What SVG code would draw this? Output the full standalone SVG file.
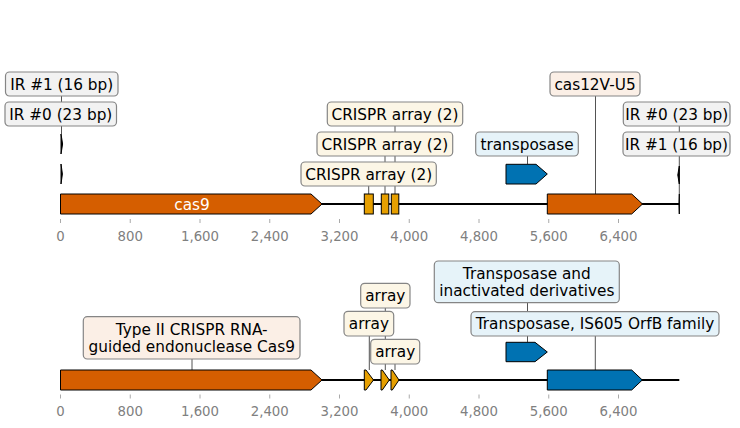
<svg xmlns="http://www.w3.org/2000/svg" width="740" height="428" viewBox="0 0 740 428">
<style>
text{font-family:"DejaVu Sans","Noto Sans",sans-serif;}
.lbl{font-size:15.3px;fill:#000;text-anchor:middle;}
.tick{font-size:13.3px;fill:#808080;text-anchor:middle;}
.box{stroke:#858585;stroke-width:1.2;}
.ir{fill:#f2f2f2;}
.cr{fill:#fcf6e6;}
.tp{fill:#e6f3f9;}
.cs{fill:#fbefe6;}
.feat{stroke:#000;stroke-width:1;}
.con{stroke:#404040;stroke-width:0.9;fill:none;}
.base{stroke:#000;stroke-width:2;fill:none;}
.tk{stroke:#aaaaaa;stroke-width:1;}
</style>
<rect width="740" height="428" fill="#fff"/>

<!-- axes -->
<g id="axis-top">
<line class="base" x1="60.5" y1="204" x2="679.3" y2="204"/>
<g class="tk">
<line x1="60.5" y1="219" x2="60.5" y2="223"/><line x1="130.25" y1="219" x2="130.25" y2="223"/><line x1="200" y1="219" x2="200" y2="223"/><line x1="269.75" y1="219" x2="269.75" y2="223"/><line x1="339.5" y1="219" x2="339.5" y2="223"/><line x1="409.25" y1="219" x2="409.25" y2="223"/><line x1="479" y1="219" x2="479" y2="223"/><line x1="548.75" y1="219" x2="548.75" y2="223"/><line x1="618.5" y1="219" x2="618.5" y2="223"/>
</g>
<text class="tick" x="60.5" y="241">0</text><text class="tick" x="130.25" y="241">800</text><text class="tick" x="200" y="241">1,600</text><text class="tick" x="269.75" y="241">2,400</text><text class="tick" x="339.5" y="241">3,200</text><text class="tick" x="409.25" y="241">4,000</text><text class="tick" x="479" y="241">4,800</text><text class="tick" x="548.75" y="241">5,600</text><text class="tick" x="618.5" y="241">6,400</text>
</g>
<g id="axis-bottom">
<line class="base" x1="60.5" y1="380" x2="679.3" y2="380"/>
<g class="tk">
<line x1="60.5" y1="394.5" x2="60.5" y2="398.5"/><line x1="130.25" y1="394.5" x2="130.25" y2="398.5"/><line x1="200" y1="394.5" x2="200" y2="398.5"/><line x1="269.75" y1="394.5" x2="269.75" y2="398.5"/><line x1="339.5" y1="394.5" x2="339.5" y2="398.5"/><line x1="409.25" y1="394.5" x2="409.25" y2="398.5"/><line x1="479" y1="394.5" x2="479" y2="398.5"/><line x1="548.75" y1="394.5" x2="548.75" y2="398.5"/><line x1="618.5" y1="394.5" x2="618.5" y2="398.5"/>
</g>
<text class="tick" x="60.5" y="416">0</text><text class="tick" x="130.25" y="416">800</text><text class="tick" x="200" y="416">1,600</text><text class="tick" x="269.75" y="416">2,400</text><text class="tick" x="339.5" y="416">3,200</text><text class="tick" x="409.25" y="416">4,000</text><text class="tick" x="479" y="416">4,800</text><text class="tick" x="548.75" y="416">5,600</text><text class="tick" x="618.5" y="416">6,400</text>
</g>

<!-- connectors -->
<g id="connectors">
<line class="con" x1="61.5" y1="84" x2="61.5" y2="134"/>
<line class="con" x1="368.7" y1="186" x2="368.7" y2="194"/>
<line class="con" x1="385" y1="144" x2="385" y2="194"/>
<line class="con" x1="395" y1="114" x2="395" y2="194"/>
<line class="con" x1="527.5" y1="156" x2="527.5" y2="164"/>
<line class="con" x1="595.5" y1="96" x2="595.5" y2="194"/>
<line class="con" x1="679.3" y1="114" x2="679.3" y2="194"/>
<line class="con" x1="192" y1="359" x2="192" y2="370"/>
<line class="con" x1="369.3" y1="336" x2="369.3" y2="370"/>
<line class="con" x1="385.3" y1="296" x2="385.3" y2="370"/>
<line class="con" x1="395" y1="364" x2="395" y2="370"/>
<line class="con" x1="527.5" y1="302.7" x2="527.5" y2="342"/>
<line class="con" x1="595.3" y1="336" x2="595.3" y2="370"/>
</g>

<!-- top track nodes -->
<g id="ir-left">
<path class="feat" d="M61,134 L62.6,144 L61,154 Z" fill="#000"/>
<path class="feat" d="M61,164 L62.4,174 L61,184 Z" fill="#000"/>
<rect class="box ir" x="5.5" y="72" width="112.5" height="24" rx="4"/>
<text class="lbl" x="61.7" y="89.5">IR #1 (16 bp)</text>
<rect class="box ir" x="5" y="102" width="111.5" height="24" rx="4"/>
<text class="lbl" x="60.8" y="119.5">IR #0 (23 bp)</text>
</g>
<g id="cas9-top">
<path class="feat" fill="#D55E00" d="M60.5,194 L311,194 L322,204 L311,214 L60.5,214 Z"/>
<text x="192" y="209.5" style="font-size:15.3px;fill:#fff;text-anchor:middle">cas9</text>
</g>
<g id="crispr-top">
<rect class="feat" fill="#E69F00" x="364.3" y="194" width="9" height="20"/>
<rect class="feat" fill="#E69F00" x="381.3" y="194" width="7.5" height="20"/>
<rect class="feat" fill="#E69F00" x="391.3" y="194" width="7.5" height="20"/>
<rect class="box cr" x="327.3" y="102" width="135.4" height="24" rx="4"/>
<text class="lbl" x="395" y="119.5">CRISPR array (2)</text>
<rect class="box cr" x="317" y="132" width="135.7" height="24" rx="4"/>
<text class="lbl" x="384.9" y="149.5">CRISPR array (2)</text>
<rect class="box cr" x="301" y="162" width="135.3" height="24" rx="4"/>
<text class="lbl" x="368.7" y="179.5">CRISPR array (2)</text>
</g>
<g id="transposase-top">
<path class="feat" fill="#0072B2" d="M506,164.3 L536,164.3 L547.3,174 L536,184 L506,184 Z"/>
<rect class="box tp" x="475.7" y="132" width="102.6" height="24" rx="4"/>
<text class="lbl" x="527" y="149.5">transposase</text>
</g>
<g id="cas12-top">
<path class="feat" fill="#D55E00" d="M547.3,194 L631.7,194 L642.5,204 L631.7,214 L547.3,214 Z"/>
<rect class="box cs" x="550" y="72" width="90" height="24" rx="4"/>
<text class="lbl" x="595" y="89.5">cas12V-U5</text>
</g>
<g id="ir-right">
<path class="feat" d="M679.3,166 L677.8,175 L679.3,184 Z" fill="#000"/>
<path class="feat" d="M679.3,194 L679,204 L679.3,214 Z" fill="#000"/>
<rect class="box ir" x="623.3" y="102" width="106.7" height="24" rx="4"/>
<text class="lbl" x="676.7" y="119.5">IR #0 (23 bp)</text>
<rect class="box ir" x="623" y="132" width="107" height="24" rx="4"/>
<text class="lbl" x="676.5" y="149.5">IR #1 (16 bp)</text>
</g>

<!-- bottom track nodes -->
<g id="cas9-bottom">
<path class="feat" fill="#D55E00" d="M60.5,370 L311,370 L322,380 L311,390 L60.5,390 Z"/>
<rect class="box cs" x="83.3" y="316.7" width="216.7" height="42.3" rx="4"/>
<text class="lbl" x="191.7" y="335.3">Type II CRISPR RNA-</text>
<text class="lbl" x="191.7" y="352">guided endonuclease Cas9</text>
</g>
<g id="array-bottom">
<path class="feat" fill="#E69F00" d="M364.3,370 L366,370 L373.5,380 L366,390 L364.3,390 Z"/>
<path class="feat" fill="#E69F00" d="M381,370 L382.3,370 L389.3,380 L382.3,390 L381,390 Z"/>
<path class="feat" fill="#E69F00" d="M391,370 L392.3,370 L399,380 L392.3,390 L391,390 Z"/>
<rect class="box cr" x="360.7" y="283.3" width="49.3" height="24.7" rx="4"/>
<text class="lbl" x="385.3" y="301">array</text>
<rect class="box cr" x="344" y="311.3" width="49.7" height="24.7" rx="4"/>
<text class="lbl" x="368.9" y="329">array</text>
<rect class="box cr" x="370.7" y="339.3" width="49" height="24.7" rx="4"/>
<text class="lbl" x="395.2" y="357">array</text>
</g>
<g id="transposase-bottom">
<path class="feat" fill="#0072B2" d="M506,342.3 L535,342.3 L547.3,352 L535,361.7 L506,361.7 Z"/>
<rect class="box tp" x="434.3" y="261" width="185" height="41.7" rx="4"/>
<text class="lbl" x="526.8" y="278.5">Transposase and</text>
<text class="lbl" x="526.8" y="295.5">inactivated derivatives</text>
</g>
<g id="is605-bottom">
<path class="feat" fill="#0072B2" d="M547.3,370 L631.7,370 L642.3,380 L631.7,390 L547.3,390 Z"/>
<rect class="box tp" x="471" y="311.7" width="248" height="24.3" rx="4"/>
<text class="lbl" x="595" y="329.2">Transposase, IS605 OrfB family</text>
</g>
</svg>
